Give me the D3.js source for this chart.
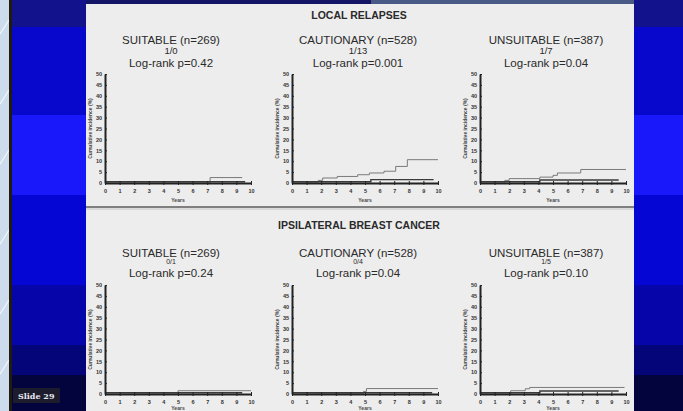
<!DOCTYPE html>
<html>
<head>
<meta charset="utf-8">
<script src="https://cdn.jsdelivr.net/npm/d3@7"></script>
<style>
  html, body { margin: 0; padding: 0; background: #000; }
  svg { display: block; }
</style>
</head>
<body>
<svg id="chart" width="683" height="411"></svg>
<script>
// ---- data ----
const sections = ["LOCAL RELAPSES", "IPSILATERAL BREAST CANCER"];
const groups = ["SUITABLE (n=269)", "CAUTIONARY (n=528)", "UNSUITABLE (n=387)"];
const eventCounts = [["1/0", "1/13", "1/7"], ["0/1", "0/4", "1/5"]];
const logRank = [
  ["Log-rank p=0.42", "Log-rank p=0.001", "Log-rank p=0.04"],
  ["Log-rank p=0.24", "Log-rank p=0.04", "Log-rank p=0.10"]
];
const xTicks = [0, 1, 2, 3, 4, 5, 6, 7, 8, 9, 10];
const yTicks = [0, 5, 10, 15, 20, 25, 30, 35, 40, 45, 50];
const xTitle = "Years";
const yTitle = "Cumulative incidence (%)";

// cumulative incidence step points [year, percent]
const lrSuitableHigh = [[0, 0], [7.2, 2.5], [9.4, 2.5]];
const lrSuitableLow = [[0, 0], [9.6, 0]];
const lrCautionaryHigh = [[0, 0], [1.0, 0.4], [1.8, 1.2], [2.1, 2.3], [3.1, 3.0], [4.5, 3.8], [5.3, 4.6], [6.3, 5.4], [7.1, 7.6], [7.9, 10.7], [10, 10.7]];
const lrCautionaryLow = [[0, 0], [5.4, 1.0], [9.7, 1.0]];
const lrUnsuitableHigh = [[0, 0], [1.7, 1.2], [2.0, 2.0], [4.1, 2.7], [5.0, 3.5], [5.3, 4.6], [6.9, 6.2], [10, 6.2]];
const lrUnsuitableLow = [[0, 0], [4.1, 0.8], [9.5, 0.8]];
const ibcSuitableHigh = [[0, 0], [5.0, 1.5], [10, 1.5]];
const ibcSuitableLow = [[0, 0], [9.4, 0]];
const ibcCautionaryHigh = [[0, 0], [1.8, 0.4], [4.9, 1.2], [5.1, 2.5], [10, 2.5]];
const ibcCautionaryLow = [[0, 0], [9.6, 0]];
const ibcUnsuitableHigh = [[0, 0], [2.1, 1.5], [3.1, 2.4], [3.4, 3.0], [9.9, 3.0]];
const ibcUnsuitableLow = [[0, 0], [4.1, 0.8], [9.5, 0.8]];

const curves = [
  [[lrSuitableHigh, lrSuitableLow], [lrCautionaryHigh, lrCautionaryLow], [lrUnsuitableHigh, lrUnsuitableLow]],
  [[ibcSuitableHigh, ibcSuitableLow], [ibcCautionaryHigh, ibcCautionaryLow], [ibcUnsuitableHigh, ibcUnsuitableLow]]
];

const slideLabel = "Slide 29";

// ---- layout ----
const W = 683, H = 411;
const panel = { x0: 86, x1: 634, y0: 4 };
const plotLeft = [105, 292, 480];
const plotWidth = 146;
const rows = [
  { header: 15, group: 40, count: 51, countSize: 9.5, p: 63, top: 74, bottom: 183, years: 202 },
  { header: 225, group: 253, count: 262, countSize: 7, p: 273, top: 285, bottom: 394, years: 409.5 }
];
const font = "'Liberation Sans', Arial, sans-serif";

const svg = d3.select("#chart");

// ---- slide background ----
const bands = [
  [0, 27, "#12128c"], [27, 115, "#0808cc"], [115, 195, "#1818fa"],
  [195, 285, "#0606d4"], [285, 345, "#0505aa"], [345, 375, "#05057a"], [375, 411, "#03033e"]
];
svg.append("rect").attr("width", W).attr("height", H).attr("fill", "#0808cc");
svg.selectAll("rect.band").data(bands).join("rect")
  .attr("class", "band")
  .attr("x", 0).attr("width", W)
  .attr("y", d => d[0]).attr("height", d => d[1] - d[0])
  .attr("fill", d => d[2]);

// light window edge on the far left
svg.append("rect").attr("x", 0).attr("y", 0).attr("width", 9).attr("height", H).attr("fill", "#cddcec");
const diag = svg.append("g");
[20, 90, 150, 230, 300, 360].forEach(y => {
  diag.append("line").attr("x1", 0).attr("y1", y + 14).attr("x2", 9).attr("y2", y)
    .attr("stroke", "#f4f8fc").attr("stroke-width", 1.2);
});
svg.append("rect").attr("x", 9).attr("y", 0).attr("width", 3).attr("height", H).attr("fill", "#201a10");

// top strip over the panel
svg.append("rect").attr("x", panel.x0).attr("y", 0).attr("width", 285).attr("height", panel.y0).attr("fill", "#141466");
svg.append("rect").attr("x", panel.x0 + 285).attr("y", 0).attr("width", panel.x1 - panel.x0 - 285).attr("height", panel.y0).attr("fill", "#4a5a86");

// white panel
svg.append("rect")
  .attr("x", panel.x0).attr("y", panel.y0)
  .attr("width", panel.x1 - panel.x0).attr("height", H - panel.y0)
  .attr("fill", "#ededed");

// divider between the two sections
svg.append("line").attr("x1", panel.x0).attr("x2", panel.x1).attr("y1", 207).attr("y2", 207)
  .attr("stroke", "#5a5a5a").attr("stroke-width", 1.5);
svg.append("line").attr("x1", panel.x0).attr("x2", panel.x1).attr("y1", 209).attr("y2", 209)
  .attr("stroke", "#c4c4c4").attr("stroke-width", 1);

// ---- plots ----
const x = d3.scaleLinear().domain([0, 10]);
const y = d3.scaleLinear().domain([0, 50]);

rows.forEach((row, r) => {
  svg.append("text")
    .attr("x", 359).attr("y", row.header).attr("dy", "0.35em")
    .attr("text-anchor", "middle")
    .attr("font-family", font).attr("font-weight", "bold").attr("font-size", 10.5)
    .attr("fill", "#2a2a2a")
    .text(sections[r]);

  groups.forEach((g, c) => {
    const left = plotLeft[c];
    const xs = x.copy().range([left, left + plotWidth]);
    const ys = y.copy().range([row.bottom, row.top]);
    const cx = left + plotWidth / 2 - 7;

    const head = svg.append("g").attr("font-family", font).attr("fill", "#2a2a2a").attr("text-anchor", "middle");
    head.append("text").attr("x", cx).attr("y", row.group).attr("dy", "0.35em").attr("font-size", 11.5).text(g);
    head.append("text").attr("x", cx).attr("y", row.count).attr("dy", "0.35em").attr("font-size", row.countSize).text(eventCounts[r][c]);
    head.append("text").attr("x", cx).attr("y", row.p).attr("dy", "0.35em").attr("font-size", 11.5).text(logRank[r][c]);

    const gp = svg.append("g");

    // curves
    const line = d3.line().x(d => xs(d[0])).y(d => ys(d[1])).curve(d3.curveStepAfter);
    const [high, low] = curves[r][c];
    gp.append("path").attr("d", line(high)).attr("fill", "none")
      .attr("stroke", "#7a7a7a").attr("stroke-width", 1);
    gp.append("path").attr("d", line(low)).attr("fill", "none")
      .attr("stroke", "#3a3a3a").attr("stroke-width", 1.4)
      .attr("transform", "translate(0,-1.2)");

    // axes
    const xAxis = d3.axisBottom(xs).tickValues(xTicks).tickSize(2).tickSizeOuter(0).tickPadding(4);
    const yAxis = d3.axisLeft(ys).tickValues(yTicks).tickSize(-2).tickSizeOuter(0).tickPadding(3);

    const gx = gp.append("g").attr("transform", `translate(0,${row.bottom})`).call(xAxis);
    const gy = gp.append("g").attr("transform", `translate(${left},0)`).call(yAxis);
    [gx, gy].forEach(a => {
      a.select(".domain").attr("stroke", "#222").attr("stroke-width", 2);
      a.selectAll(".tick line").attr("stroke", "#222").attr("stroke-width", 1);
      a.selectAll(".tick text").attr("font-family", font).attr("font-weight", "bold")
        .attr("font-size", 5.5).attr("fill", "#333");
    });
    gx.selectAll(".tick line").attr("y1", -2).attr("y2", 2);

    gp.append("text")
      .attr("x", left + plotWidth / 2).attr("y", row.years)
      .attr("text-anchor", "middle")
      .attr("font-family", font).attr("font-weight", "bold").attr("font-size", 5)
      .attr("fill", "#444").text(xTitle);

    gp.append("text")
      .attr("transform", `translate(${left - 13},${(row.top + row.bottom) / 2}) rotate(-90)`)
      .attr("text-anchor", "middle")
      .attr("font-family", font).attr("font-weight", "bold").attr("font-size", 5)
      .attr("fill", "#444").text(yTitle);
  });
});

// ---- slide number ----
svg.append("rect").attr("x", 13).attr("y", 388).attr("width", 47).attr("height", 15)
  .attr("fill", "#1c1c2c").attr("rx", 1);
svg.append("text").attr("x", 18).attr("y", 396).attr("dy", "0.35em")
  .attr("font-family", "'DejaVu Serif', serif").attr("font-weight", "bold").attr("font-size", 8)
  .attr("fill", "#e8e8f0").text(slideLabel);
</script>
</body>
</html>
